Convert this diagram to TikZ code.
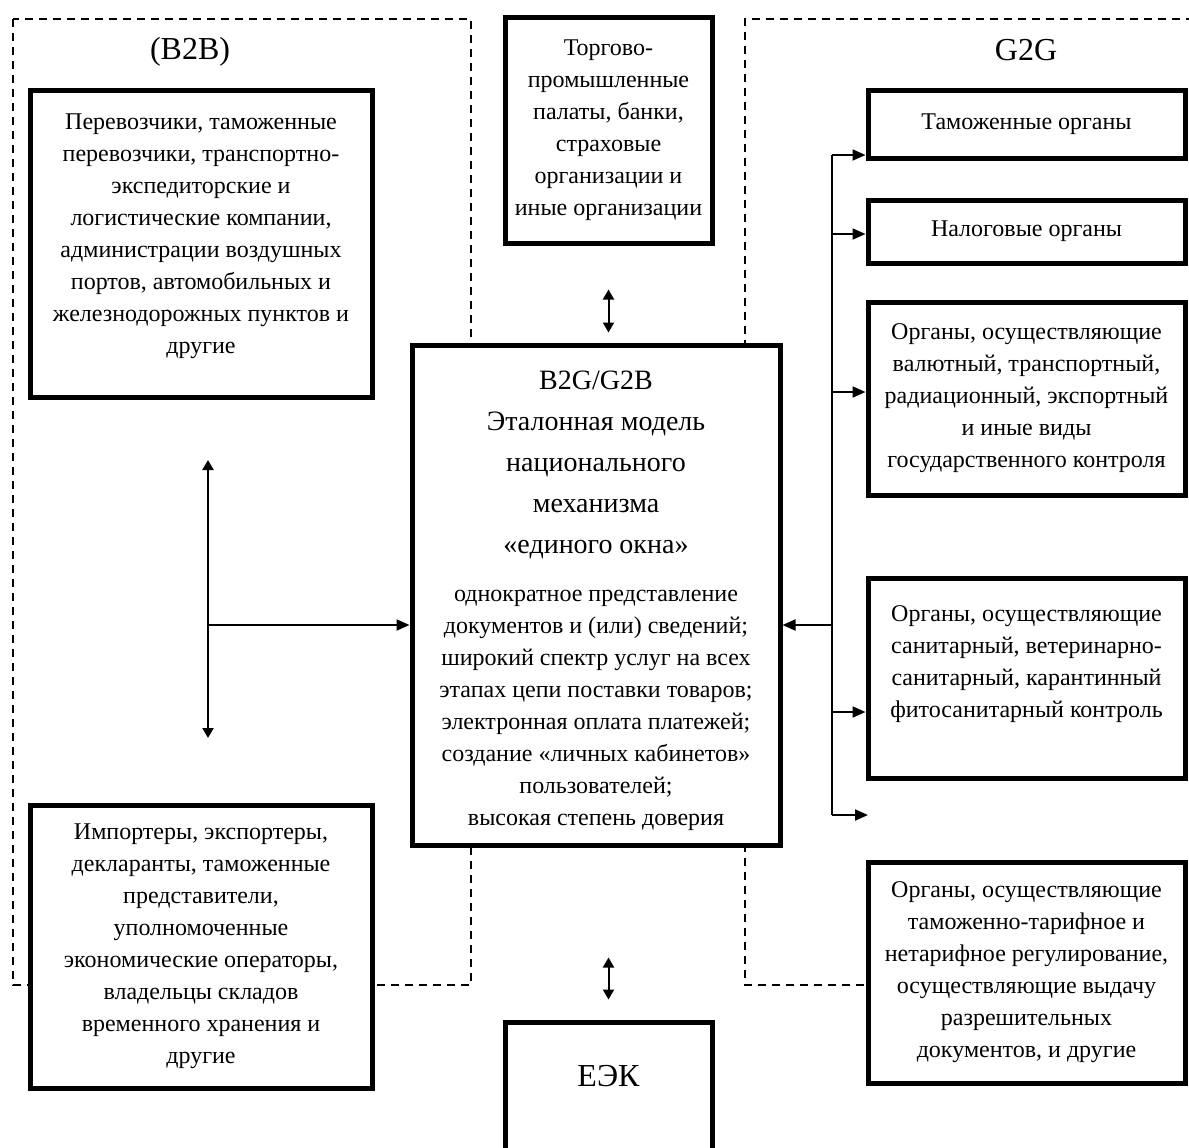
\documentclass[tikz,border=0pt]{standalone}
\usepackage{fontspec}
\setmainfont{Liberation Serif}
\usetikzlibrary{arrows.meta}
\begin{document}
\begin{tikzpicture}[x=0.5pt,y=-0.5pt,
  box/.style={draw, line width=2.5pt, fill=white, inner sep=0pt, align=center, font=\fontsize{12}{16}\selectfont},
  dashbox/.style={line width=0.8pt, dash pattern=on 4pt off 3pt},
  conn/.style={line width=1pt, -{Triangle[length=6.5pt,width=5.5pt]}},
  dbl/.style={line width=1pt, {Triangle[length=5pt,width=5.5pt]}-{Triangle[length=5pt,width=5.5pt]}},
  lbl/.style={font=\fontsize{16}{18}\selectfont}]
\useasboundingbox (0,0) rectangle (1189,1147);
\fill[white] (0,0) rectangle (1189,1147);
% dashed regions
\draw[dashbox] (13,19) rectangle (471,985);
\draw[dashbox] (1200,985) -- (745,985) -- (745,19) -- (1200,19);
% labels
\node[lbl] (b2blbl) at (190,52) {(B2B)};
\node[lbl] (g2glbl) at (1026,50) {G2G};
% boxes
\node[box, minimum width=171pt, minimum height=153.5pt] (carr) at (201,243.5)
 {Перевозчики, таможенные\\перевозчики, транспортно-\\экспедиторские и\\логистические компании,\\администрации воздушных\\портов, автомобильных и\\железнодорожных пунктов и\\другие\\[-6pt]\mbox{}};
\node[box, minimum width=103.5pt, minimum height=113pt] (topc) at (608.5,130)
 {Торгово-\\промышленные\\палаты, банки,\\страховые\\организации и\\иные организации};
\node[box, minimum width=184pt, minimum height=250pt] (core) at (596,595)
 {\begin{minipage}{182pt}\centering\vspace*{6pt}\fontsize{14}{20.5}\selectfont
 B2G/G2B\\Эталонная модель\\национального\\механизма\\«единого окна»\par\vspace{8pt}
 \fontsize{12}{16}\selectfont однократное представление\\документов и (или) сведений;\\широкий спектр услуг на всех\\этапах цепи поставки товаров;\\электронная оплата платежей;\\создание «личных кабинетов»\\пользователей;\\высокая степень доверия\par\end{minipage}};
\node[box, minimum width=171pt, minimum height=141.5pt] (imp) at (201,946.5)
 {Импортеры, экспортеры,\\декларанты, таможенные\\представители,\\уполномоченные\\экономические операторы,\\владельцы складов\\временного хранения и\\другие};
\node[box, minimum width=103.5pt, minimum height=71.5pt, font=\fontsize{16}{18}\selectfont] (eek) at (608.5,1093.5)
 {ЕЭК\\\mbox{}};
\node[box, minimum width=158.5pt, minimum height=34pt] (r1) at (1026.5,124) {Таможенные органы};
\node[box, minimum width=158.5pt, minimum height=31.5pt] (r2) at (1026.5,231.5) {Налоговые органы};
\node[box, minimum width=158.5pt, minimum height=96.5pt] (r3) at (1026.5,398.5)
 {Органы, осуществляющие\\валютный, транспортный,\\радиационный, экспортный\\и иные виды\\государственного контроля};
\node[box, minimum width=158.5pt, minimum height=100pt] (r4) at (1026.5,678)
 {Органы, осуществляющие\\санитарный, ветеринарно-\\санитарный, карантинный\\фитосанитарный контроль\\\mbox{}};
\node[box, minimum width=158.5pt, minimum height=110.5pt] (r5) at (1026.5,972.5)
 {Органы, осуществляющие\\таможенно-тарифное и\\нетарифное регулирование,\\осуществляющие выдачу\\разрешительных\\документов, и другие};
% vertical double arrows
\draw[dbl, shorten <=22pt, shorten >=5pt] (topc.south) -- (core.north -| topc.south);
\draw[dbl, shorten <=55pt, shorten >=10pt] (core.south -| eek.north) -- (eek.north);
% left side
\coordinate (lt) at (208,460);
\coordinate (lb) at (208,738);
\coordinate (lj) at (208,625);
\draw[dbl] (lt) -- (lb);
\draw[conn] (lj) -- (lj -| core.west);
% right bus
\coordinate (bt) at (832,155);
\coordinate (b2) at (832,234);
\coordinate (b3) at (832,392);
\coordinate (bc) at (832,625);
\coordinate (b4) at (832,712);
\coordinate (bb) at (832,815);
\coordinate (be) at (868,815);
\draw[line width=1pt] (bt) -- (bb);
\draw[conn] (bt) -- (bt -| r1.west);
\draw[conn] (b2) -- (b2 -| r2.west);
\draw[conn] (b3) -- (b3 -| r3.west);
\draw[conn] (b4) -- (b4 -| r4.west);
\draw[conn] (bb) -- (be);
\draw[conn] (bc) -- (bc -| core.east);
\end{tikzpicture}
\end{document}
